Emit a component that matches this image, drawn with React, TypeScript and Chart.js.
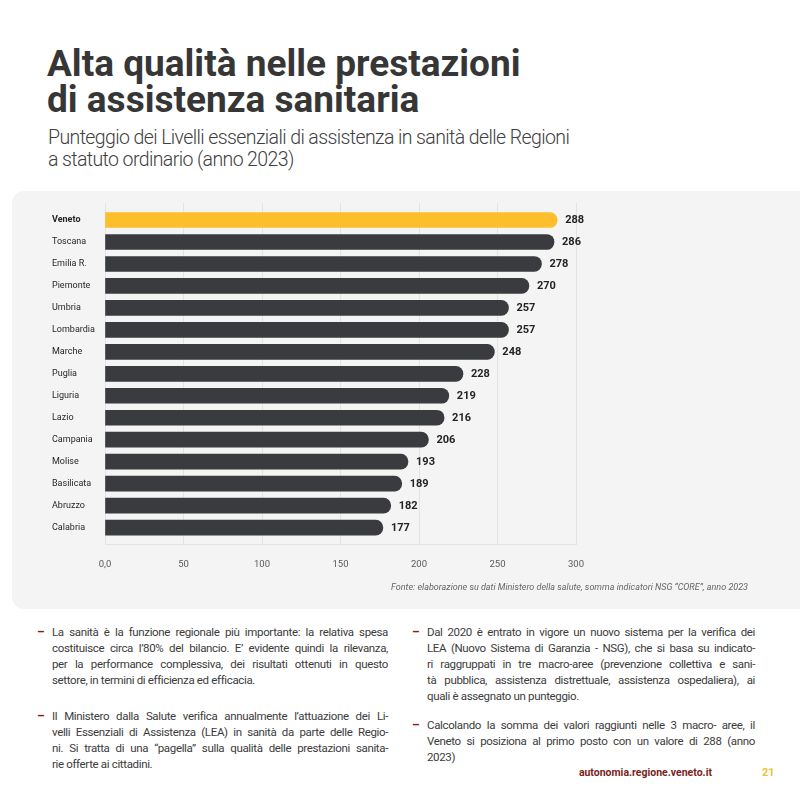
import React, { useEffect, useRef } from "react";
import { Chart, registerables } from "chart.js";

Chart.register(...registerables);

// ---- data ----
const regions = [
  "Veneto", "Toscana", "Emilia R.", "Piemonte", "Umbria", "Lombardia", "Marche",
  "Puglia", "Liguria", "Lazio", "Campania", "Molise", "Basilicata", "Abruzzo", "Calabria",
];
const scores = [288, 286, 278, 270, 257, 257, 248, 228, 219, 216, 206, 193, 189, 182, 177];
const xTicks = [0, 50, 100, 150, 200, 250, 300];
const highlightRegion = "Veneto";

const leftPara1 = [
  "La sanità è la funzione regionale più importante: la relativa spesa",
  "costituisce circa l’80% del bilancio. E’ evidente quindi la rilevanza,",
  "per la performance complessiva, dei risultati ottenuti in questo",
  "settore, in termini di efficienza ed efficacia.",
];
const leftPara2 = [
  "Il Ministero dalla Salute verifica annualmente l’attuazione dei Li-",
  "velli Essenziali di Assistenza (LEA) in sanità da parte delle Regio-",
  "ni. Si tratta di una “pagella” sulla qualità delle prestazioni sanita-",
  "rie offerte ai cittadini.",
];
const rightPara1 = [
  "Dal 2020 è entrato in vigore un nuovo sistema per la verifica dei",
  "LEA (Nuovo Sistema di Garanzia - NSG), che si basa su indicato-",
  "ri raggruppati in tre macro-aree (prevenzione collettiva e sani-",
  "tà pubblica, assistenza distrettuale, assistenza ospedaliera), ai",
  "quali è assegnato un punteggio.",
];
const rightPara2 = [
  "Calcolando la somma dei valori raggiunti nelle 3 macro- aree, il",
  "Veneto si posiziona al primo posto con un valore di 288 (anno",
  "2023)",
];

const YELLOW = "#fdbe2c";
const DARK = "#3a3b3e";
const FONT = "Roboto, 'Noto Sans', sans-serif";

const valueLabels = {
  id: "valueLabels",
  afterDatasetsDraw(chart: any) {
    const { ctx } = chart;
    const meta = chart.getDatasetMeta(0);
    const data = chart.data.datasets[0].data;
    ctx.save();
    ctx.font = `bold 11px ${FONT}`;
    ctx.fillStyle = "#232323";
    ctx.textAlign = "left";
    ctx.textBaseline = "middle";
    meta.data.forEach((bar: any, i: number) => {
      ctx.fillText(String(data[i]), bar.x + 8, bar.y + 0.5);
    });
    ctx.restore();
  },
};

function BarChart() {
  const ref = useRef<HTMLCanvasElement | null>(null);
  useEffect(() => {
    if (!ref.current) return;
    const chart = new Chart(ref.current, {
      type: "bar",
      data: {
        labels: regions,
        datasets: [
          {
            data: scores,
            backgroundColor: regions.map((r) => (r === highlightRegion ? YELLOW : DARK)),
            barThickness: 15,
            borderRadius: 8,
            borderSkipped: "start",
          },
        ],
      },
      options: {
        indexAxis: "y",
        animation: false,
        responsive: false,
        maintainAspectRatio: false,
        layout: { padding: { left: 40, right: 224, top: 12, bottom: 25 } },
        plugins: { legend: { display: false }, tooltip: { enabled: false } },
        scales: {
          x: {
            min: 0,
            max: 300,
            afterBuildTicks: (s: any) => {
              s.ticks = xTicks.map((v) => ({ value: v }));
            },
            grid: { color: "#e3e3e3", lineWidth: 1, drawTicks: false },
            border: { display: true, color: "#e3e3e3" },
            ticks: {
              padding: 14,
              color: "#5a5a5a",
              font: { family: FONT, size: 9.5 },
              callback: (v: any) => (v === 0 ? "0,0" : String(v)),
            },
          },
          y: {
            grid: { display: false },
            border: { display: false },
            afterFit: (s: any) => {
              s.width = 53;
            },
            afterUpdate: (s: any) => {
              const pad = 0.275;
              s._startValue = -0.5 - pad;
              s._valueRange = regions.length + 2 * pad;
            },
            ticks: {
              crossAlign: "far",
              padding: 0,
              color: "#262626",
              font: (c: any) => ({
                family: FONT,
                size: 9,
                weight: regions[c.index] === highlightRegion ? "bold" : "normal",
              }),
            },
          },
        },
      },
      plugins: [valueLabels],
    } as any);
    return () => chart.destroy();
  }, []);
  return (
    <canvas
      ref={ref}
      width={788}
      height={418}
      style={{ position: "absolute", left: 12, top: 191, width: 788, height: 418 }}
    />
  );
}

function Para({ lines, left, top, width }: { lines: string[]; left: number; top: number; width: number }) {
  return (
    <div style={{ position: "absolute", left, top, width }}>
      <span
        style={{
          position: "absolute",
          left: -15,
          top: 0,
          color: "#8a1c1c",
          fontWeight: 700,
          lineHeight: "16px",
          fontSize: 12,
        }}
      >
        –
      </span>
      {lines.map((l, i) => (
        <div
          key={i}
          style={{
            height: 16,
            lineHeight: "16px",
            whiteSpace: "nowrap",
            textAlign: "justify",
            textAlignLast: i === lines.length - 1 ? "left" : "justify",
          }}
        >
          {l}
        </div>
      ))}
    </div>
  );
}

export default function App() {
  const bodyText: React.CSSProperties = {
    fontFamily: FONT,
    fontSize: 11.5,
    letterSpacing: "-0.35px",
    color: "#3c3c3c",
  };
  return (
    <div
      style={{
        position: "fixed",
        left: 0,
        top: 0,
        width: 800,
        height: 800,
        background: "#ffffff",
        overflow: "hidden",
        fontFamily: FONT,
      }}
    >
      <div
        style={{
          position: "absolute",
          left: 47,
          top: 46,
          fontSize: 37,
          lineHeight: "36px",
          fontWeight: 700,
          color: "#363636",
          whiteSpace: "nowrap",
        }}
      >
        <div>Alta qualità nelle prestazioni</div>
        <div>di assistenza sanitaria</div>
      </div>
      <div
        style={{
          position: "absolute",
          left: 48,
          top: 127,
          fontSize: 19.5,
          lineHeight: "22px",
          fontWeight: 300,
          letterSpacing: "-0.6px",
          color: "#404040",
          whiteSpace: "nowrap",
        }}
      >
        <div>Punteggio dei Livelli essenziali di assistenza in sanità delle Regioni</div>
        <div>a statuto ordinario (anno 2023)</div>
      </div>

      <div
        style={{
          position: "absolute",
          left: 12,
          top: 191,
          width: 788,
          height: 418,
          background: "#f4f4f4",
          borderRadius: "12px 0 0 12px",
        }}
      />
      <BarChart />
      <div
        style={{
          position: "absolute",
          right: 52,
          top: 582,
          fontSize: 9,
          fontStyle: "italic",
          color: "#666",
          whiteSpace: "nowrap",
        }}
      >
        Fonte: elaborazione su dati Ministero della salute, somma indicatori NSG “CORE”, anno 2023
      </div>

      <div style={bodyText}>
        <Para lines={leftPara1} left={52} top={624} width={336} />
        <Para lines={leftPara2} left={52} top={708} width={336} />
        <Para lines={rightPara1} left={427} top={624} width={328} />
        <Para lines={rightPara2} left={427} top={717} width={328} />
      </div>

      <div
        style={{
          position: "absolute",
          right: 88,
          top: 766,
          fontSize: 10.5,
          fontWeight: 700,
          color: "#7a1f22",
          whiteSpace: "nowrap",
        }}
      >
        autonomia.regione.veneto.it
      </div>
      <div
        style={{
          position: "absolute",
          left: 762,
          top: 766,
          fontSize: 11,
          fontWeight: 700,
          color: "#f3c232",
        }}
      >
        21
      </div>
    </div>
  );
}
